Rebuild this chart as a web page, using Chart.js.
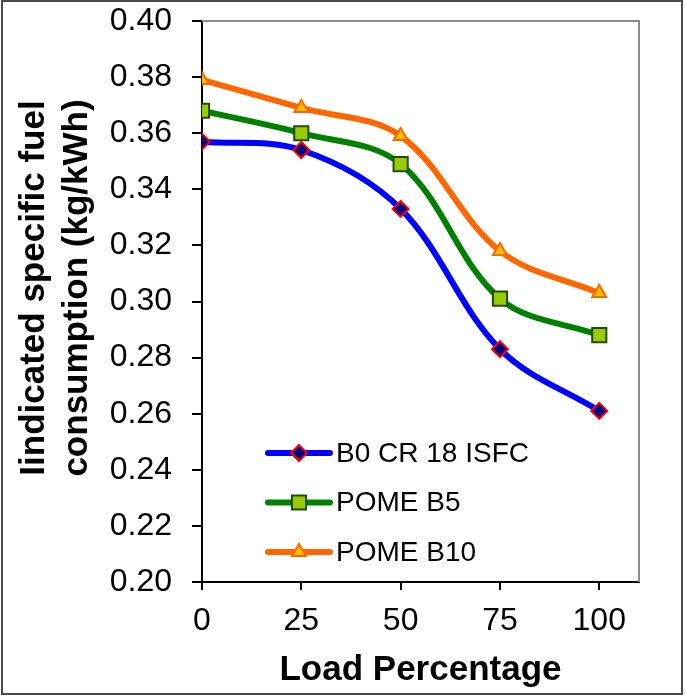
<!DOCTYPE html>
<html>
<head>
<meta charset="utf-8">
<title>ISFC vs load</title>
<script src="https://cdn.jsdelivr.net/npm/chart.js@4.4.1/dist/chart.umd.min.js"></script>
<style>
  html, body { margin: 0; padding: 0; background: #fff; }
  canvas { display: block; }
</style>
</head>
<body>
<canvas id="isfcChart" width="685" height="697"></canvas>
<script>
// values
const loadPct = [0, 25, 50, 75, 100];
const xTicks = [0, 25, 50, 75, 100];
const yTicks = [0.20, 0.22, 0.24, 0.26, 0.28, 0.30, 0.32, 0.34, 0.36, 0.38, 0.40];
const seriesNames = ['B0 CR 18 ISFC', 'POME B5', 'POME B10'];
const isfcB0 = [0.357, 0.354, 0.333, 0.283, 0.261];
const isfcB5 = [0.368, 0.360, 0.349, 0.301, 0.288];
const isfcB10 = [0.379, 0.369, 0.359, 0.318, 0.303];
const yTitle = ['Iindicated specific fuel', 'consumption (kg/kWh)'];
const xTitle = 'Load Percentage';

const FONT = "'Liberation Sans', Arial, sans-serif";
Chart.defaults.font.family = FONT;

function toPoints(ys) {
    return loadPct.map(function (x, i) { return { x: x, y: ys[i] }; });
}

// marker helper (same look as the dataset points)
function drawMarker(ctx, ds, x, y) {
    ctx.save();
    ctx.fillStyle = ds.pointBackgroundColor;
    ctx.strokeStyle = ds.pointBorderColor;
    ctx.lineWidth = ds.pointBorderWidth;
    Chart.helpers.drawPoint(ctx, {
        pointStyle: ds.pointStyle,
        radius: ds.pointRadius,
        rotation: 0,
        borderWidth: ds.pointBorderWidth
    }, x, y);
    ctx.restore();
}

// outer frame + grey top/right edge of the plot
const framePlugin = {
    id: 'frame',
    afterDraw(chart) {
        const { ctx, chartArea } = chart;
        ctx.save();
        ctx.strokeStyle = '#8c8c8c';
        ctx.lineWidth = 2;
        ctx.beginPath();
        ctx.moveTo(chartArea.left, chartArea.top);
        ctx.lineTo(chartArea.right, chartArea.top);
        ctx.lineTo(chartArea.right, chartArea.bottom);
        ctx.stroke();
        ctx.strokeStyle = '#4a4a4a';
        ctx.strokeRect(2, 1, 680, 693);
        ctx.restore();
    }
};

// legend sits inside the plot, line + marker samples
const legendInside = {
    id: 'legendInside',
    afterDatasetsDraw(chart) {
        const { ctx, chartArea } = chart;
        const x0 = chartArea.left + 66;
        const x1 = chartArea.left + 128;
        const tx = chartArea.left + 134;
        chart.data.datasets.forEach(function (ds, i) {
            const y = chartArea.top + 432 + i * 49.5;
            ctx.save();
            ctx.strokeStyle = ds.borderColor;
            ctx.lineWidth = ds.borderWidth;
            ctx.lineCap = 'round';
            ctx.beginPath();
            ctx.moveTo(x0, y);
            ctx.lineTo(x1, y);
            ctx.stroke();
            ctx.restore();
            drawMarker(ctx, ds, (x0 + x1) / 2, y);
            ctx.save();
            ctx.fillStyle = '#000';
            ctx.font = '28px ' + FONT;
            ctx.textAlign = 'left';
            ctx.textBaseline = 'middle';
            ctx.fillText(ds.label, tx, y + 1);
            ctx.restore();
        });
    }
};

// two-line rotated y title
const yTitlePlugin = {
    id: 'yTitle',
    afterDraw(chart) {
        const ctx = chart.ctx;
        const xs = [34, 77];
        const yc = 288;
        ctx.save();
        ctx.fillStyle = '#000';
        ctx.font = 'bold 35px ' + FONT;
        ctx.textAlign = 'center';
        ctx.textBaseline = 'middle';
        yTitle.forEach(function (line, i) {
            ctx.save();
            ctx.translate(xs[i], yc);
            ctx.rotate(-Math.PI / 2);
            ctx.fillText(line, 0, 0);
            ctx.restore();
        });
        ctx.restore();
    }
};

const chart = new Chart(document.getElementById('isfcChart'), {
    type: 'line',
    data: {
        datasets: [{
            label: seriesNames[0],
            data: toPoints(isfcB0),
            borderColor: '#0000ff',
            borderWidth: 6,
            tension: 0.35,
            pointStyle: 'rectRot',
            pointRadius: 8,
            pointBackgroundColor: '#000080',
            pointBorderColor: '#ff0000',
            pointBorderWidth: 2
        }, {
            label: seriesNames[1],
            data: toPoints(isfcB5),
            borderColor: '#008000',
            borderWidth: 6,
            tension: 0.35,
            pointStyle: 'rect',
            pointRadius: 10,
            pointBackgroundColor: '#99cc00',
            pointBorderColor: '#1e4d0f',
            pointBorderWidth: 2
        }, {
            label: seriesNames[2],
            data: toPoints(isfcB10),
            borderColor: '#ff6600',
            borderWidth: 6,
            tension: 0.35,
            pointStyle: 'triangle',
            pointRadius: 8,
            pointBackgroundColor: '#ffc000',
            pointBorderColor: '#ff6600',
            pointBorderWidth: 2
        }]
    },
    options: {
        responsive: false,
        animation: false,
        devicePixelRatio: 1,
        layout: { padding: { top: 21, right: 46, left: 0, bottom: 0 } },
        plugins: {
            legend: { display: false },
            tooltip: { enabled: false }
        },
        scales: {
            x: {
                type: 'linear',
                min: 0,
                max: 110,
                afterBuildTicks: function (s) { s.ticks = xTicks.map(function (v) { return { value: v }; }); },
                afterFit: function (s) { s.height = 115; s.paddingLeft = 0; s.paddingRight = 0; },
                grid: { drawOnChartArea: false, drawTicks: true, tickLength: 8, color: '#000', lineWidth: 2 },
                border: { color: '#000', width: 2 },
                ticks: { font: { size: 32 }, color: '#000', padding: 12, maxRotation: 0 },
                title: {
                    display: true,
                    text: xTitle,
                    color: '#000',
                    font: { size: 35, weight: 'bold' },
                    padding: { top: 0, bottom: 6 }
                }
            },
            y: {
                min: 0.2,
                max: 0.4,
                afterBuildTicks: function (s) { s.ticks = yTicks.map(function (v) { return { value: v }; }); },
                afterFit: function (s) { s.width = 202; s.paddingTop = 0; s.paddingBottom = 0; },
                grid: { drawOnChartArea: false, drawTicks: true, tickLength: 10, color: '#000', lineWidth: 2 },
                border: { color: '#000', width: 2 },
                ticks: {
                    font: { size: 32 },
                    color: '#000',
                    padding: 20,
                    callback: function (v) { return v.toFixed(2); }
                }
            }
        }
    },
    plugins: [framePlugin, legendInside, yTitlePlugin]
});
</script>
</body>
</html>
